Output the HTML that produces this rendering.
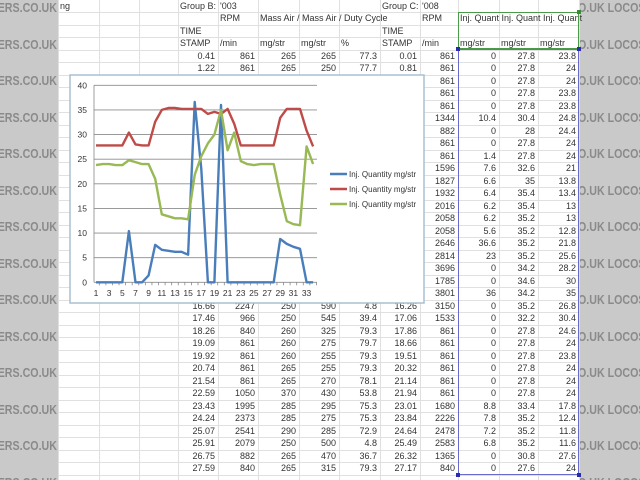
<!DOCTYPE html>
<html><head><meta charset="utf-8">
<style>
body{margin:0;width:640px;height:480px;overflow:hidden;background:#fff;font-family:"Liberation Sans",sans-serif;}
#page{position:relative;width:640px;height:480px;overflow:hidden;background:#fff;}
.band{position:absolute;top:0;height:480px;background:#c9c9c9;overflow:hidden;}
.wm{position:absolute;font-size:13px;font-weight:bold;color:#8a8a8a;white-space:nowrap;transform:scaleX(0.82);transform-origin:left;}
.hl{position:absolute;left:58px;width:522px;height:1px;background:#e0e0e0;}
.vl{position:absolute;top:0;width:1px;height:480px;background:#e0e0e0;}
.c{position:absolute;font-size:9px;color:#333;white-space:nowrap;line-height:13px;}
.r{text-align:right;}
</style></head><body>
<div id="page">
<div class="band" style="left:0;width:58px" id="lb"></div>
<div class="band" style="left:580px;width:60px" id="rb"></div>
<div id="grid"></div>
<div id="cells"></div>
<div style="position:absolute;left:458px;top:12px;width:121px;height:37px;border:1px solid #4a9a4a;box-sizing:border-box"></div>
<div style="position:absolute;left:458px;top:49px;width:121px;height:426px;border:1px solid #6a6acc;box-sizing:border-box"></div>
<div style="position:absolute;left:456px;top:47px;width:4px;height:4px;background:#2a2ab0"></div>
<div style="position:absolute;left:577px;top:47px;width:4px;height:4px;background:#2a2ab0"></div>
<div style="position:absolute;left:456px;top:473px;width:4px;height:4px;background:#2a2ab0"></div>
<div style="position:absolute;left:577px;top:473px;width:4px;height:4px;background:#2a2ab0"></div>
<div style="position:absolute;left:577px;top:10px;width:4px;height:4px;background:#3a8a3a"></div>
<svg id="chart" style="position:absolute;left:0;top:0" width="640" height="480"></svg>
</div>
<script>
const blueVals=[0,0,0,0,0,10.4,0,0,1.4,7.6,6.6,6.4,6.2,6.2,5.6,36.6,23,0,0,36,0,0,0,0,0,0,0,0,8.8,7.8,7.2,6.8,0,0];
const redVals=[27.8,27.8,27.8,27.8,27.8,30.4,28,27.8,27.8,32.6,35,35.4,35.4,35.2,35.2,35.2,35.2,34.2,34.6,34.2,35.2,32.2,27.8,27.8,27.8,27.8,27.8,27.8,33.4,35.2,35.2,35.2,30.8,27.6];
const greenVals=[23.8,24,24,23.8,23.8,24.8,24.4,24,24,21,13.8,13.4,13,13,12.8,21.8,25.6,28.2,30,35,26.8,30.4,24.6,24,23.8,24,24,24,17.8,12.4,11.8,11.6,27.6,24];
const rpmC=[861,861,861,861,861,1344,882,861,861,1596,1827,1932,2016,2058,2058,2646,2814,3696,1785,3801,3150,1533,861,861,861,861,861,861,1680,2226,2478,2583,1365,840];
const yTicks=[0,5,10,15,20,25,30,35,40];
const legendLabels=["Inj. Quantity  mg/str","Inj. Quantity  mg/str","Inj. Quantity  mg/str"];
const tsB=[16.66,17.46,18.26,19.09,19.92,20.74,21.54,22.59,23.43,24.24,25.07,25.91,26.75,27.59];
const rpmB=[2247,966,840,861,861,861,861,1050,1995,2373,2541,2079,882,840];
const ma1=[250,250,260,260,260,265,265,370,285,285,290,250,265,265];
const ma2=[590,545,325,275,255,255,270,430,295,275,285,500,470,315];
const duty=[4.8,39.4,79.3,79.7,79.3,79.3,78.1,53.8,75.3,75.3,72.9,4.8,36.7,79.3];
const tsC=[16.26,17.06,17.86,18.66,19.51,20.32,21.14,21.94,23.01,23.84,24.64,25.49,26.32,27.17];

const lb=document.getElementById('lb'), rb=document.getElementById('rb');
for(let i=0;i<14;i++){
  const a=document.createElement('div');a.className='wm';a.style.left='-10px';a.style.top=(i*36.5)+'px';a.textContent='DERS.CO.UK L';
  
  
  lb.appendChild(a);
  const b=document.createElement('div');b.className='wm';b.style.left='-2px';b.style.top=(i*36.5)+'px';b.textContent='O.UK LOCOST';
  
  
  rb.appendChild(b);
}
const grid=document.getElementById('grid');
const colX=[58,99,139,178,218,258,299,339,380,420,458,499,538,579];
for(let i=1;i<40;i++){
  const d=document.createElement('div');d.className='hl';d.style.top=Math.round(-0.5+12.5*i)+'px';
  
  
  grid.appendChild(d);
}
colX.forEach(x=>{
  const d=document.createElement('div');d.className='vl';d.style.left=x+'px';
  
  
  grid.appendChild(d);
});
const cells=document.getElementById('cells');
function cell(col,row,txt,right){
  const d=document.createElement('div');d.className='c'+(right?' r':'');
  const x=colX[col];
  d.style.top=(Math.round(-0.5+12.5*row))+'px';
  if(right){d.style.left=x+'px';d.style.width=(colX[col+1]-x-3)+'px';}
  else d.style.left=(x+2)+'px';
  d.textContent=txt;
  
  
  cells.appendChild(d);
}
cell(0,0,'ng');cell(3,0,'Group B:');cell(4,0,"'003");cell(8,0,'Group C:');cell(9,0,"'008");
cell(4,1,'  RPM');cell(5,1,'Mass Air / Mass Air / Duty Cycle');cell(9,1,'  RPM');cell(10,1,'Inj. Quant Inj. Quant Inj. Quant');
cell(3,2,'TIME');cell(8,2,'TIME');
cell(3,3,'STAMP');cell(4,3,'/min');cell(5,3,'mg/str');cell(6,3,'mg/str');cell(7,3,'%');cell(8,3,'STAMP');cell(9,3,'/min');cell(10,3,'mg/str');cell(11,3,'mg/str');cell(12,3,'mg/str');
cell(3,4,'0.41',1);cell(4,4,'861',1);cell(5,4,'265',1);cell(6,4,'265',1);cell(7,4,'77.3',1);cell(8,4,'0.01',1);
cell(3,5,'1.22',1);cell(4,5,'861',1);cell(5,5,'265',1);cell(6,5,'250',1);cell(7,5,'77.7',1);cell(8,5,'0.81',1);
for(let k=0;k<34;k++){
  cell(9,4+k,String(rpmC[k]),1);cell(10,4+k,String(blueVals[k]),1);cell(11,4+k,String(redVals[k]),1);cell(12,4+k,String(greenVals[k]),1);
}
for(let j=0;j<tsB.length;j++){
  const r=24+j;
  cell(3,r,tsB[j].toFixed(2),1);cell(4,r,String(rpmB[j]),1);cell(5,r,String(ma1[j]),1);cell(6,r,String(ma2[j]),1);cell(7,r,String(duty[j]),1);cell(8,r,tsC[j].toFixed(2),1);
}
const svg=document.getElementById('chart');const NS='http://www.w3.org/2000/svg';
function el(t,a,p){const e=document.createElementNS(NS,t);for(const k in a)e.setAttribute(k,a[k]);(p||svg).appendChild(e);return e;}
const xS=i=>96+i*6.58;
const yS=v=>282.3-v*4.925;
const box=el('rect',{x:70,y:75,width:354,height:228,fill:'#fff',stroke:'#a9c0cf','stroke-width':1.5});


yTicks.forEach(t=>{
  const g=el('line',{x1:94,x2:317,y1:yS(t),y2:yS(t),stroke:'#8c8c8c','stroke-width':0.8});
  
  
  const tx=el('text',{x:87,y:yS(t)+3,'text-anchor':'end','font-size':8.5,fill:'#333','font-family':'Liberation Sans'});
  tx.textContent=t;
  
  
});
const ax=el('line',{x1:94,x2:94,y1:yS(40),y2:yS(0),stroke:'#888','stroke-width':0.8});


for(let i=0;i<blueVals.length;i++){
  const tk=el('line',{x1:xS(i)+3.29,x2:xS(i)+3.29,y1:yS(0),y2:yS(0)+3,stroke:'#888','stroke-width':0.8});
  
  
  if(i%2===0){
    const tx=el('text',{x:xS(i),y:296,'text-anchor':'middle','font-size':8.5,fill:'#333','font-family':'Liberation Sans'});
    tx.textContent=i+1;
    
    
  }
}
const series=[[blueVals,'#4a7ebb'],[redVals,'#be4b48'],[greenVals,'#98b954']];
series.forEach((s,si)=>{
  const pts=s[0].map((v,i)=>xS(i).toFixed(1)+','+yS(v).toFixed(1)).join(' ');
  const pl=el('polyline',{points:pts,fill:'none',stroke:s[1],'stroke-width':2.4,'stroke-linejoin':'round'});
  
  
  const ly=174+si*15;
  const ll=el('line',{x1:330,x2:347,y1:ly,y2:ly,stroke:s[1],'stroke-width':2.4});
  
  
  const lt=el('text',{x:349,y:ly+3,'font-size':8,fill:'#333','font-family':'Liberation Sans','xml:space':'preserve'});
  lt.textContent=legendLabels[si];
  
  
});
</script>
</body></html>
